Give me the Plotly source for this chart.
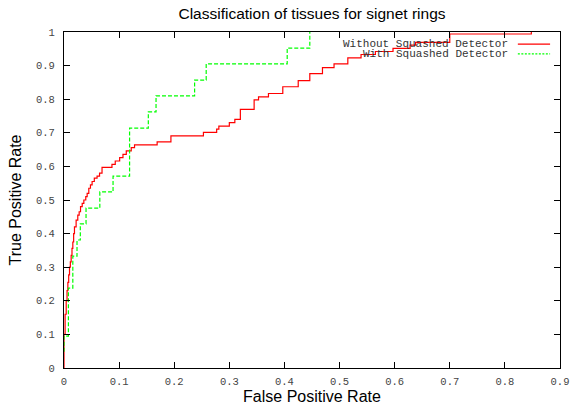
import plotly.graph_objects as go

# Without Squashed Detector (step ROC curve)
fpr_without = [0, 0, 0.002, 0.004, 0.0055, 0.007, 0.0085, 0.010, 0.0115, 0.013,
               0.0145, 0.016, 0.0175, 0.019, 0.022, 0.025, 0.0275, 0.030, 0.033, 0.036,
               0.0395, 0.042, 0.045, 0.048, 0.051, 0.055, 0.060, 0.0645, 0.069, 0.087,
               0.093, 0.101, 0.107, 0.113, 0.122, 0.128, 0.169, 0.194, 0.253, 0.277,
               0.281, 0.300, 0.310, 0.320, 0.345, 0.353, 0.371, 0.397, 0.425, 0.446,
               0.469, 0.490, 0.515, 0.539, 0.565, 0.597, 0.628, 0.638, 0.700, 0.848]
tpr_without = [0, 0.10, 0.16, 0.20, 0.23, 0.255, 0.277, 0.30, 0.316, 0.335,
               0.356, 0.375, 0.40, 0.42, 0.44, 0.455, 0.465, 0.48, 0.49, 0.50,
               0.51, 0.52, 0.535, 0.545, 0.555, 0.565, 0.571, 0.58, 0.597, 0.606,
               0.616, 0.626, 0.636, 0.646, 0.656, 0.664, 0.673, 0.691, 0.701, 0.711,
               0.72, 0.73, 0.74, 0.77, 0.798, 0.807, 0.817, 0.837, 0.855, 0.876,
               0.894, 0.905, 0.923, 0.933, 0.942, 0.951, 0.961, 0.969, 0.994, 1.0]

# With Squashed Detector
fpr_with = [0, 0, 0.008, 0.016, 0.0236, 0.0296, 0.040, 0.065, 0.089, 0.119,
            0.153, 0.167, 0.237, 0.258, 0.405, 0.446]
tpr_with = [0.048, 0.095, 0.238, 0.333, 0.381, 0.429, 0.476, 0.524, 0.571, 0.714,
            0.762, 0.810, 0.857, 0.905, 0.952, 1.0]

series_names = ["Without Squashed Detector", "With Squashed Detector"]
x_ticks = [0, 0.1, 0.2, 0.3, 0.4, 0.5, 0.6, 0.7, 0.8, 0.9]
x_tick_labels = ["0", "0.1", "0.2", "0.3", "0.4", "0.5", "0.6", "0.7", "0.8", "0.9"]
y_ticks = [0, 0.1, 0.2, 0.3, 0.4, 0.5, 0.6, 0.7, 0.8, 0.9, 1.0]
y_tick_labels = ["0", "0.1", "0.2", "0.3", "0.4", "0.5", "0.6", "0.7", "0.8", "0.9", "1"]

RED = "#ff0000"
GREEN = "#00ff00"
MONO = "Liberation Mono, Courier New, monospace"
SANS = "Liberation Sans, Arial, sans-serif"

fig = go.Figure()
fig.add_trace(go.Scatter(x=fpr_without, y=tpr_without, mode="lines", line_shape="hv",
                         line=dict(color=RED, width=1.2), name=series_names[0],
                         showlegend=False))
fig.add_trace(go.Scatter(x=fpr_with, y=tpr_with, mode="lines", line_shape="hv",
                         line=dict(color=GREEN, width=1.2, dash="4px,2px"),
                         name=series_names[1], showlegend=False))

axis_common = dict(showgrid=False, zeroline=False, showline=True, linecolor="black",
                   linewidth=1.2, mirror="ticks", ticks="inside", ticklen=6,
                   tickcolor="black", layer="above traces", automargin=False,
                   tickfont=dict(family=MONO, size=10.5, color="#444444"))

fig.update_layout(
    width=577, height=408,
    margin=dict(l=64, r=17, t=32, b=40),
    paper_bgcolor="white", plot_bgcolor="white",
    title=dict(text="Classification of tissues for signet rings", x=0.5, xref="paper",
               xanchor="center", y=1 - 14 / 408, yanchor="middle",
               font=dict(family=SANS, size=15.5, color="black")),
    xaxis=dict(range=[0, 0.9], tickvals=x_ticks, ticktext=x_tick_labels,
               ticklabelstandoff=3,
               title=dict(text="False Positive Rate", standoff=2,
                          font=dict(family=SANS, size=16, color="black")),
               **axis_common),
    yaxis=dict(range=[0, 1], tickvals=y_ticks, ticktext=y_tick_labels,
               ticklabelstandoff=6,
               title=dict(text="True Positive Rate", standoff=10,
                          font=dict(family=SANS, size=16, color="black")),
               **axis_common),
)

# gnuplot-style key: text right-aligned, sample line on the right
key_rows = [(series_names[0], RED, "solid", 0.964), (series_names[1], GREEN, "2px,1.5px", 0.935)]
for name, color, dash, ypos in key_rows:
    fig.add_annotation(text=name, xref="paper", yref="paper", x=0.899, y=ypos,
                       xanchor="right", yanchor="middle", showarrow=False,
                       font=dict(family=MONO, size=11, color="#333333"))
    fig.add_shape(type="line", xref="paper", yref="paper", x0=0.915, x1=0.98,
                  y0=ypos, y1=ypos, line=dict(color=color, width=1.2, dash=dash))

fig.write_html("out.html", config={"displayModeBar": False},
               post_script="document.body.style.margin='0';document.body.style.overflow='hidden';")
